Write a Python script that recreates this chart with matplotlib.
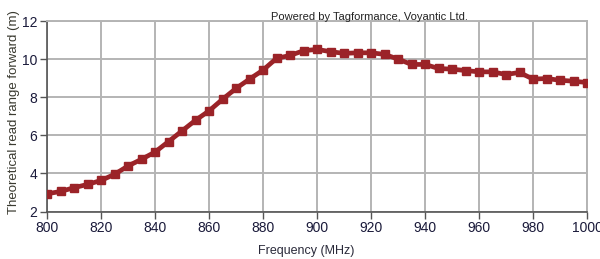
import matplotlib
matplotlib.use("Agg")
import matplotlib.pyplot as plt

# frequency sweep, 5 MHz steps
freq_mhz = list(range(800, 1001, 5))
read_range_m = [
    2.93, 3.05, 3.25, 3.42, 3.63, 3.95, 4.39, 4.74, 5.12, 5.67,
    6.23, 6.79, 7.28, 7.89, 8.46, 8.95, 9.42, 10.04, 10.19, 10.44,
    10.51, 10.39, 10.30, 10.33, 10.33, 10.25, 10.00, 9.72, 9.72, 9.51,
    9.47, 9.40, 9.33, 9.33, 9.19, 9.30, 8.95, 8.98, 8.89, 8.84, 8.77,
]
x_ticks = [800, 820, 840, 860, 880, 900, 920, 940, 960, 980, 1000]
y_ticks = [2, 4, 6, 8, 10, 12]

plt.rcParams["font.family"] = ["Liberation Sans", "DejaVu Sans"]

fig = plt.figure(figsize=(6.0, 2.59), dpi=100)
ax = fig.add_axes([47 / 600, 1 - 211.5 / 259, 540 / 600, 190.5 / 259])

ax.plot(freq_mhz, read_range_m, color="#9b2328", lw=3.4, marker="s",
        markersize=6, markeredgecolor="#9b2328", zorder=3)

ax.set_xlim(800, 1000)
ax.set_ylim(2, 12)
ax.set_xticks(x_ticks)
ax.set_yticks(y_ticks)
ax.grid(True, color="#b4b4b4", lw=1.4)
ax.set_axisbelow(True)

for side in ("top", "right"):
    ax.spines[side].set_color("#b4b4b4")
    ax.spines[side].set_linewidth(1.4)
for side in ("left", "bottom"):
    ax.spines[side].set_color("#555555")
    ax.spines[side].set_linewidth(1.2)

ax.tick_params(axis="both", labelsize=10, colors="#555555",
               labelcolor="#1a1a3a", length=5, width=1, pad=2)

ax.set_xlabel("Frequency (MHz)", fontsize=9, color="#2a2a3a")
ax.xaxis.set_label_coords(0.48, -0.175)
ax.set_ylabel("Theoretical read range forward (m)", fontsize=9.5,
              color="#3a3a30")
ax.yaxis.set_label_coords(-0.05, 0.52)

fig.text(0.615, 0.935, "Powered by Tagformance, Voyantic Ltd.", fontsize=8,
         color="#222222", ha="center", va="center")

fig.savefig("out.png", dpi=100)
